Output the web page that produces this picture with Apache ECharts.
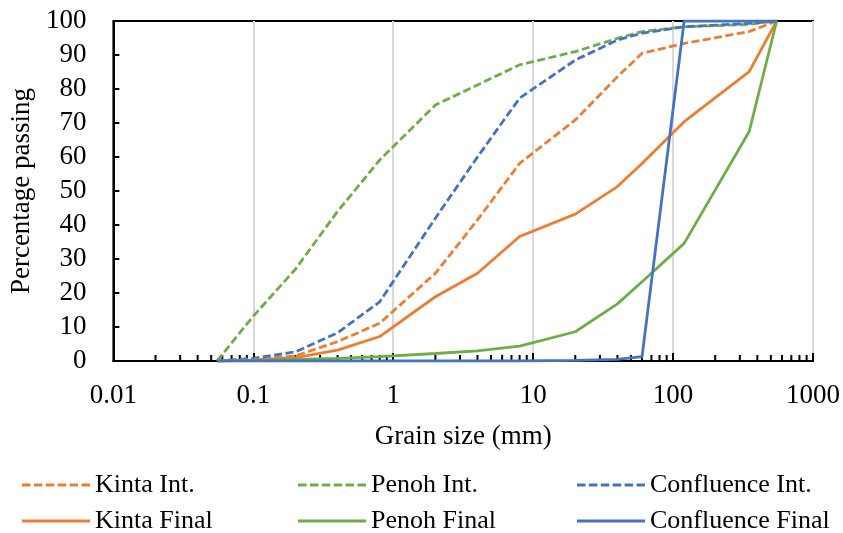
<!DOCTYPE html>
<html>
<head>
<meta charset="utf-8">
<script src="https://cdn.jsdelivr.net/npm/echarts@6/dist/echarts.min.js"></script>
<style>html,body{margin:0;padding:0;background:#fff}#c{width:843px;height:533px}</style>
</head>
<body>
<div id="c"></div>
<script>
const grainSize = [0.055, 0.1, 0.2, 0.4, 0.8, 2, 4, 8, 20, 40, 60, 120, 350, 550];
const kintaInt = [0, 0.5, 1.5, 5.7, 11.1, 25.8, 41.5, 58.1, 70.9, 83.6, 90.5, 93.4, 96.9, 100];
const penohInt = [0, 13.2, 27, 44, 59.1, 75.3, 81.2, 87.1, 91, 94.9, 96.9, 98.3, 99, 100];
const confluenceInt = [0, 0.8, 2.7, 8.3, 17.4, 42, 60, 77.3, 88.5, 94.4, 96.4, 98.3, 99.3, 100];
const kintaFinal = [0, 0.3, 1, 3.2, 7.2, 18.9, 25.8, 36.6, 43.2, 51.3, 58.1, 70.4, 85.1, 100];
const penohFinal = [0, 0.2, 0.5, 0.8, 1.3, 2.2, 3, 4.4, 8.6, 16.8, 23.3, 34.6, 67.5, 100];
const confluenceFinal = [0, 0, 0, 0, 0, 0, 0, 0, 0.2, 0.5, 1.3, 100, 100, 100];
const minorTickValues = [0.02,0.03,0.04,0.05,0.06,0.07,0.08,0.09,
  0.2,0.3,0.4,0.5,0.6,0.7,0.8,0.9, 2,3,4,5,6,7,8,9,
  20,30,40,50,60,70,80,90, 200,300,400,500,600,700,800,900];

const FONT = '"Liberation Serif", "Times New Roman", serif';
const ORANGE = '#ED7D31', GREEN = '#70AD47', BLUE = '#4472C4';
const DASH_ICON = 'path://M0,0h8.5v3h-8.5z M11.9,0h8.5v3h-8.5z M23.8,0h8.5v3h-8.5z M35.7,0h8.5v3h-8.5z M47.6,0h8.5v3h-8.5z M59.5,0h8.5v3h-8.5z';
const SOLID_ICON = 'path://M0,0h68v3h-68z';
const pair = ys => grainSize.map((x, i) => [x, ys[i]]);
function mk(name, ys, color, dashed) {
  return {
    name, type: 'line', data: pair(ys), symbol: 'none', showSymbol: false,
    lineStyle: { color, width: 2.8, type: dashed ? [8, 3.5] : 'solid', cap: 'butt' },
    itemStyle: { color }, z: 3, animation: false
  };
}
function lg(name, left, top, dashed) {
  return {
    left, top, orient: 'horizontal', itemWidth: 68, itemHeight: 3,
    data: [{ name, icon: dashed ? DASH_ICON : SOLID_ICON }],
    textStyle: { fontFamily: FONT, fontSize: 26, color: '#000' },
    selectedMode: false
  };
}
const chart = echarts.init(document.getElementById('c'));
chart.setOption({
  animation: false,
  grid: { left: 111, right: 30, top: 21, bottom: 172, show: true, borderColor: '#000', borderWidth: 2, backgroundColor: 'transparent' },
  legend: [
    lg('Kinta Int.', 17, 467, true),
    lg('Kinta Final', 17, 503, false),
    lg('Penoh Int.', 293, 467, true),
    lg('Penoh Final', 293, 503, false),
    lg('Confluence Int.', 572, 467, true),
    lg('Confluence Final', 572, 503, false)
  ],
  xAxis: {
    type: 'log', logBase: 10, min: 0.01, max: 1000,
    name: 'Grain size (mm)', nameLocation: 'middle', nameGap: 62,
    nameTextStyle: { fontFamily: FONT, fontSize: 27, color: '#000' },
    axisLine: { lineStyle: { color: '#000', width: 2 } },
    axisTick: { inside: true, length: 8, lineStyle: { color: '#000', width: 2 } },
    axisLabel: { fontFamily: FONT, fontSize: 27, color: '#000', margin: 21,
      formatter: v => String(+v.toPrecision(6)) },
    splitLine: { show: true, lineStyle: { color: '#d9d9d9', width: 2 } }
  },
  yAxis: {
    type: 'value', min: 0, max: 100, interval: 10,
    name: 'Percentage passing', nameLocation: 'middle', nameGap: 76,
    nameTextStyle: { fontFamily: FONT, fontSize: 27, color: '#000' },
    axisLine: { show: true, lineStyle: { color: '#000', width: 2 } },
    axisTick: { show: true, inside: true, length: 6, lineStyle: { color: '#000', width: 2 } },
    axisLabel: { fontFamily: FONT, fontSize: 27, color: '#000', margin: 27 },
    splitLine: { show: false }
  },
  series: [
    {
      type: 'custom', name: 'minorTicks', silent: true, z: 2, clip: false,
      data: minorTickValues.map(v => [v, 0]),
      renderItem: (params, api) => {
        const p = api.coord([api.value(0), 0]);
        return { type: 'line', shape: { x1: p[0], y1: p[1], x2: p[0], y2: p[1] - 6 },
          style: { stroke: '#000', lineWidth: 2 } };
      }
    },
    mk('Kinta Int.', kintaInt, ORANGE, true),
    mk('Penoh Int.', penohInt, GREEN, true),
    mk('Confluence Int.', confluenceInt, BLUE, true),
    mk('Kinta Final', kintaFinal, ORANGE, false),
    mk('Penoh Final', penohFinal, GREEN, false),
    mk('Confluence Final', confluenceFinal, BLUE, false)
  ]
});
</script>
</body>
</html>
